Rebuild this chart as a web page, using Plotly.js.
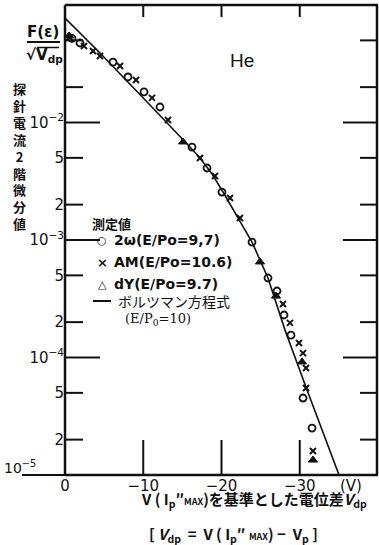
<!DOCTYPE html>
<html>
<head>
<meta charset="utf-8">
<script src="https://cdn.plot.ly/plotly-3.0.1.min.js"></script>
<style>
  html, body { margin: 0; padding: 0; background: #fff; overflow: hidden; }
  #chart { width: 379px; height: 545px; }
</style>
</head>
<body>
<div id="chart"></div>
<script>
// Potential difference V_dp (V) and normalised second-derivative probe current, He discharge

// Boltzmann distribution curve (E/P0 = 10)
const vdpBoltzmann = [0, -4.47, -10.86, -14.06, -15.97, -17.25, -18.79, -20.19, -21.98, -23.90, -25.94, -28.12, -30.93, -35.02];
const fBoltzmann   = [7.75e-2, 3.90e-2, 1.41e-2, 8.47e-3, 6.18e-3, 4.99e-3, 3.65e-3, 2.56e-3, 1.60e-3, 9.6e-4, 4.75e-4, 1.71e-4, 5.28e-5, 1.0e-5];

// 2ω method (E/Po = 9.7)
const vdp2w = [-0.89, -1.92, -6.13, -8.05, -10.10, -12.14, -16.23, -18.15, -20.06, -23.90, -25.94, -27.09, -27.99, -28.88, -30.42, -31.57];
const f2w   = [5.2e-2, 4.75e-2, 3.27e-2, 2.44e-2, 1.82e-2, 1.355e-2, 6.18e-3, 4.10e-3, 2.56e-3, 9.6e-4, 4.75e-4, 3.68e-4, 2.30e-4, 1.55e-4, 4.52e-5, 2.51e-5];

// AM method (E/Po = 10.6)
const vdpAM = [-0.6, -2.43, -3.58, -4.47, -7.03, -9.07, -11.12, -13.16, -17.25, -19.17, -21.09, -22.36, -27.86, -28.75, -29.90, -30.42, -30.80, -30.80, -31.69];
const fAM   = [5.3e-2, 4.48e-2, 4.06e-2, 3.68e-2, 3.03e-2, 2.30e-2, 1.62e-2, 1.05e-2, 4.99e-3, 3.51e-3, 2.28e-3, 1.54e-3, 2.85e-4, 1.97e-4, 1.33e-4, 1.09e-4, 8.14e-5, 5.50e-5, 1.60e-5];

// dY method (E/Po = 9.7)
const vdpDY = [-0.51, -15.08, -24.92, -26.97, -30.29, -31.69];
const fDY   = [5.45e-2, 6.83e-3, 6.50e-4, 3.33e-4, 9.16e-5, 1.34e-5];

// axis ticks
const xTickVals = [0, -10, -20, -30];
const xTickText = ['0', '\u221210', '\u221220', '\u221230'];
const xTopTickVals = [-10, -20, -30];
const yTickVals = [1e-5, 2e-5, 5e-5, 1e-4, 2e-4, 5e-4, 1e-3, 2e-3, 5e-3, 1e-2, 2e-2, 5e-2, 1e-1];
const yTickText = ['', '2', '5', '10<sup>\u22124</sup>', '2', '5', '10<sup>\u22123</sup>', '2', '5', '10<sup>\u22122</sup>', '', '', ''];
const yDecadeVals = [1e-4, 1e-3, 1e-2];

const X_RANGE = [0, -40];
const Y_RANGE = [-5, -1];   // log10

const INK = '#111111';
const sansFont = 'DejaVu Sans, Liberation Sans, sans-serif';
const cjkFont = 'Noto Sans CJK JP, Noto Sans, sans-serif';

// plot area in pixels: left 65, right 378, top 5, bottom 475
const PL = 65, PR = 378, PT = 5, PB = 475;
const W = PR - PL, H = PB - PT;
const px = v => (v - PL) / W;
const py = v => (PB - v) / H;
// axis value -> fraction of the plot area (same linear / log mapping as the axes)
const xFrac = v => (v - X_RANGE[0]) / (X_RANGE[1] - X_RANGE[0]);
const yFrac = v => (Math.log10(v) - Y_RANGE[0]) / (Y_RANGE[1] - Y_RANGE[0]);

const traces = [
  {
    x: vdpBoltzmann, y: fBoltzmann, type: 'scatter', mode: 'lines',
    line: { color: INK, width: 1.6 }, name: 'ボルツマン方程式', hoverinfo: 'skip'
  },
  {
    x: vdp2w, y: f2w, type: 'scatter', mode: 'markers', name: '2ω',
    marker: { symbol: 'circle-open', size: 7, color: INK, line: { width: 1.8, color: INK } }
  },
  {
    x: vdpAM, y: fAM, type: 'scatter', mode: 'markers', name: 'AM',
    marker: { symbol: 'x-thin-open', size: 6, color: INK, line: { width: 2, color: INK } }
  },
  {
    x: vdpDY, y: fDY, type: 'scatter', mode: 'markers', name: 'dY',
    marker: { symbol: 'triangle-up', size: 8, color: INK, line: { width: 1, color: INK } }
  }
];

const ann = (x, y, text, opts = {}) => Object.assign({
  xref: 'paper', yref: 'paper', x: px(x), y: py(y), text: text, showarrow: false,
  xanchor: 'center', yanchor: 'middle',
  font: { family: sansFont, size: 15, color: INK }
}, opts);

const annotations = [
  ann(43, 32, 'F(ε)', { font: { family: sansFont, size: 15, color: INK, weight: 'bold' } }),
  ann(44, 56, '√V<sub>dp</sub>', { font: { family: sansFont, size: 15, color: INK, weight: 'bold' } }),
  ann(242, 60, 'He', { font: { family: 'Liberation Sans, Arial, sans-serif', size: 19, color: INK } }),
  ann(19, 156, '探<br>針<br>電<br>流<br>2<br>階<br>微<br>分<br>値',
      { font: { family: cjkFont, size: 13, color: INK, weight: 'bold' } }),
  ann(2, 467, '10<sup>\u22125</sup>', { xanchor: 'left', font: { family: sansFont, size: 14, color: INK } }),
  ann(351, 486, '(V)', { font: { family: sansFont, size: 15, color: INK } }),

  ann(90, 223, '測定値', { xanchor: 'left', font: { family: cjkFont, size: 13, color: INK, weight: 'bold' } }),
  ann(102, 240, '○', { font: { family: sansFont, size: 11, color: INK, weight: 'bold' } }),
  ann(112, 240, '2ω(E/Po=9,7)', { xanchor: 'left', font: { family: sansFont, size: 14, color: INK, weight: 'bold' } }),
  ann(102, 262, '×', { font: { family: sansFont, size: 13, color: INK, weight: 'bold' } }),
  ann(112, 262, 'AM(E/Po=10.6)', { xanchor: 'left', font: { family: sansFont, size: 14, color: INK, weight: 'bold' } }),
  ann(102, 284, '△', { font: { family: sansFont, size: 11, color: INK, weight: 'bold' } }),
  ann(112, 284, 'dY(E/Po=9.7)', { xanchor: 'left', font: { family: sansFont, size: 14, color: INK, weight: 'bold' } }),
  ann(116, 301, 'ボルツマン方程式', { xanchor: 'left', font: { family: cjkFont, size: 14, color: INK } }),
  ann(123, 319, '(E/P<sub>0</sub>=10)', { xanchor: 'left', font: { family: 'DejaVu Serif, serif', size: 13, color: INK } }),

  ann(254, 500, 'V ( I<sub>p</sub>″<span style="font-size:9px">MAX</span>)を基準とした電位差<i>V</i><sub>dp</sub>',
      { font: { family: cjkFont, size: 15, color: INK, weight: 'bold' } }),
  ann(233, 534, '[ <i>V</i><sub>dp</sub>  =  V ( I<sub>p</sub>″ <span style="font-size:9px">MAX</span>) −  V<sub>p</sub> ]',
      { font: { family: cjkFont, size: 15, color: INK, weight: 'bold' } })
];

// guide strokes drawn as thin filled bars in paper space (w, h in px)
const hBar = (x0, x1, y, t = 2) => ({
  type: 'rect', xref: 'paper', yref: 'paper', layer: 'above',
  x0: x0, x1: x1, y0: y - t / 2 / H, y1: y + t / 2 / H,
  fillcolor: INK, line: { width: 0 }
});
const vBar = (x, y0, y1, t = 2) => ({
  type: 'rect', xref: 'paper', yref: 'paper', layer: 'above',
  x0: x - t / 2 / W, x1: x + t / 2 / W, y0: y0, y1: y1,
  fillcolor: INK, line: { width: 0 }
});

const shapes = [
  // fraction bar of F(ε)/√V_dp and radical overbar
  hBar(px(27), px(60), py(42)),
  hBar(px(37), px(59), py(47.5), 1.5),
  // baseline extension left of the frame
  hBar(px(22), 0, 0),
  // legend line sample
  hBar(px(93), px(111), py(301)),
  // plot frame
  hBar(0, 1, 1, 2.5),
  hBar(0, 1, 0, 2.5),
  vBar(0, 0, 1, 2.5),
  vBar(1 - 1 / W, 0, 1, 2.5)
];

// short ticks hanging from the top edge
xTopTickVals.forEach(v => shapes.push(vBar(xFrac(v), 1 - 12 / H, 1)));
// long ticks rising from the bottom edge
xTickVals.slice(1).forEach(v => shapes.push(vBar(xFrac(v), 0, 35 / H)));
// ticks on both vertical edges: decades long, 2 and 5 short
yTickVals.slice(1, -1).forEach(v => {
  const len = (yDecadeVals.includes(v) ? 35 : 18) / W;
  shapes.push(hBar(0, len, yFrac(v)));
  shapes.push(hBar(1 - len, 1, yFrac(v)));
});

const layout = {
  width: 379, height: 545,
  margin: { l: PL, r: 379 - PR, t: PT, b: 545 - PB, pad: 0 },
  paper_bgcolor: '#fff', plot_bgcolor: '#fff',
  showlegend: false,
  xaxis: {
    range: X_RANGE, tickmode: 'array', tickvals: xTickVals, ticktext: xTickText,
    ticks: '', showline: false, showgrid: false, zeroline: false,
    tickfont: { family: sansFont, size: 15, color: INK }
  },
  yaxis: {
    type: 'log', range: Y_RANGE, tickmode: 'array', tickvals: yTickVals, ticktext: yTickText,
    ticks: '', showline: false, showgrid: false, zeroline: false,
    tickfont: { family: sansFont, size: 15, color: INK }
  },
  annotations: annotations,
  shapes: shapes
};

Plotly.newPlot('chart', traces, layout, { displayModeBar: false });
</script>
</body>
</html>
